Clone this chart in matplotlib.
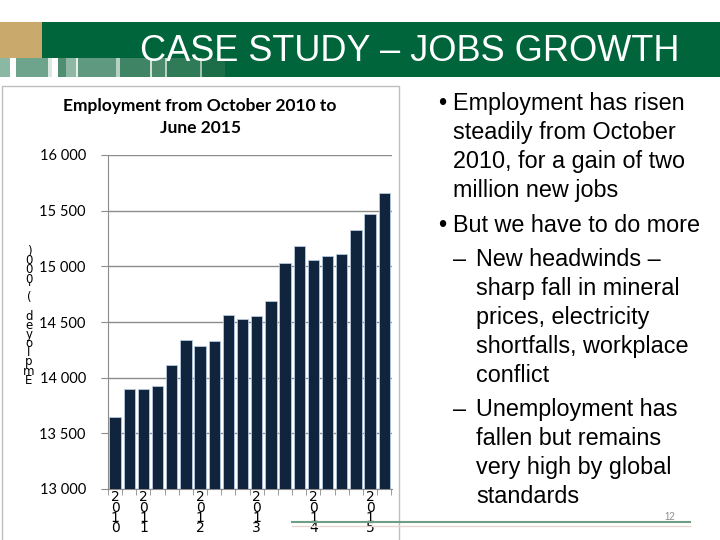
import matplotlib.pyplot as plt
import matplotlib.ticker as ticker
from matplotlib.patches import Rectangle

# quarterly employment, thousands
employment = [13650, 13900, 13902, 13923, 14118, 14338, 14284, 14331, 14563, 14527,
              14557, 14692, 15034, 15181, 15058, 15097, 15115, 15322, 15469, 15659]
year_labels = ['2010', '2011', '2012', '2013', '2014', '2015']
year_pos = [0, 2, 6, 10, 14, 18]
y_ticks = [13000, 13500, 14000, 14500, 15000, 15500, 16000]

W, H = 720, 540
green = '#00653a'
navy = '#10243e'


def fx(x):
    return x / W


def fy(y):
    return 1 - y / H


fig = plt.figure(figsize=(7.2, 5.4), dpi=100)
fig.patch.set_facecolor('white')

# header band
fig.patches.append(Rectangle((fx(42), fy(77)), fx(678), 55 / H, transform=fig.transFigure,
                             facecolor=green, edgecolor='none'))
fig.patches.append(Rectangle((0, fy(58)), fx(42), 36 / H, transform=fig.transFigure,
                             facecolor='#c9aa6c', edgecolor='none'))
stripes = [(0, 10, '#8bb8a3'), (10, 16, '#ffffff'), (16, 48, '#6fa48c'), (48, 52, '#d9e8e0'),
           (52, 58, '#ffffff'), (58, 66, '#4f8e70'), (66, 76, '#8fb8a4'), (76, 78, '#e6f0eb'),
           (78, 116, '#5f9a80'), (116, 120, '#b5d1c3'), (120, 150, '#3f8565'),
           (150, 152, '#cfe1d7'), (152, 165, '#4a8a6b'), (165, 167, '#b8d3c5'),
           (167, 200, '#2f7a57'), (200, 202, '#a0c2b1'), (202, 225, '#1c6e48')]
for x0, x1, c in stripes:
    fig.patches.append(Rectangle((fx(x0), fy(77)), fx(x1 - x0), 19 / H,
                                 transform=fig.transFigure, facecolor=c, edgecolor='none'))
fig.text(fx(410), fy(61), 'CASE STUDY \u2013 JOBS GROWTH', color='white', fontsize=26,
         family=['Liberation Sans', 'DejaVu Sans'], ha='center', va='baseline')

# chart frame
fig.patches.append(Rectangle((fx(2), fy(545)), fx(397), 459 / H, transform=fig.transFigure,
                             facecolor='none', edgecolor='#bfbfbf', linewidth=1))

ax = fig.add_axes([fx(108), fy(489), fx(392 - 108), (489 - 155) / H])
ax.bar(range(len(employment)), employment, width=0.8, color=navy,
       edgecolor='#b8c8de', linewidth=0.6, zorder=3)
ax.set_ylim(13000, 16000)
ax.set_xlim(-0.5, 19.55)
ax.set_yticks(y_ticks)
ax.yaxis.set_major_formatter(ticker.FuncFormatter(lambda v, p: '{:,}'.format(int(v)).replace(',', ' ')))
ax.grid(axis='y', color='#8c8c8c', linewidth=1, zorder=0)
for s in ['top', 'right']:
    ax.spines[s].set_visible(False)
for s in ['left', 'bottom']:
    ax.spines[s].set_color('#8c8c8c')
ax.tick_params(axis='y', length=5, color='#8c8c8c', labelsize=10.5, pad=11)
for lab in ax.get_yticklabels():
    lab.set_family('Lato')
ax.set_xticks(year_pos)
ax.set_xticklabels(['\n'.join(t) for t in year_labels], fontsize=10, family='DejaVu Sans',
                   linespacing=0.66, va='top')
ax.tick_params(axis='x', length=0, pad=1)
ax.set_xticks([i + 0.5 for i in range(-1, len(employment))], minor=True)
ax.tick_params(axis='x', which='minor', length=4, color='#8c8c8c')

fig.text(fx(200), fy(117), 'Employment from October 2010 to\nJune 2015', ha='center',
         va='center', fontsize=12.5, fontweight='bold', family='Lato', linespacing=1.45)
fig.text(fx(29), fy(316), '\n'.join(reversed("Employed ('000)")), ha='center', va='center',
         fontsize=8.5, family='DejaVu Sans', linespacing=0.62)

# bullet text
body = dict(fontsize=16.8, family=['Liberation Sans', 'DejaVu Sans'], va='baseline',
            color='black')
lines = [
    (438, 102, '\u2022'), (453, 102, 'Employment has risen'),
    (453, 131, 'steadily from October'), (453, 160, '2010, for a gain of two'),
    (453, 189, 'million new jobs'),
    (438, 224, '\u2022'), (453, 224, 'But we have to do more'),
    (453, 258, '\u2013'), (476, 258, 'New headwinds \u2013'),
    (476, 287, 'sharp fall in mineral'), (476, 316, 'prices, electricity'),
    (476, 345, 'shortfalls, workplace'), (476, 374, 'conflict'),
    (453, 408, '\u2013'), (476, 408, 'Unemployment has'),
    (476, 437, 'fallen but remains'), (476, 466, 'very high by global'),
    (476, 495, 'standards'),
]
for x, y, t in lines:
    fig.text(fx(x), fy(y + 8), t, **body)

fig.text(fx(670), fy(517), '12', fontsize=7, color='#8c8c8c', ha='center', va='center',
         family=['Liberation Sans', 'DejaVu Sans'])
fig.add_artist(plt.Line2D([fx(292), fx(690)], [fy(522), fy(522)], color='#6f9e88', linewidth=1.5))
fig.add_artist(plt.Line2D([fx(292), fx(690)], [fy(526), fy(526)], color='#e8d6d0', linewidth=1))

fig.savefig('out.png', dpi=100)
